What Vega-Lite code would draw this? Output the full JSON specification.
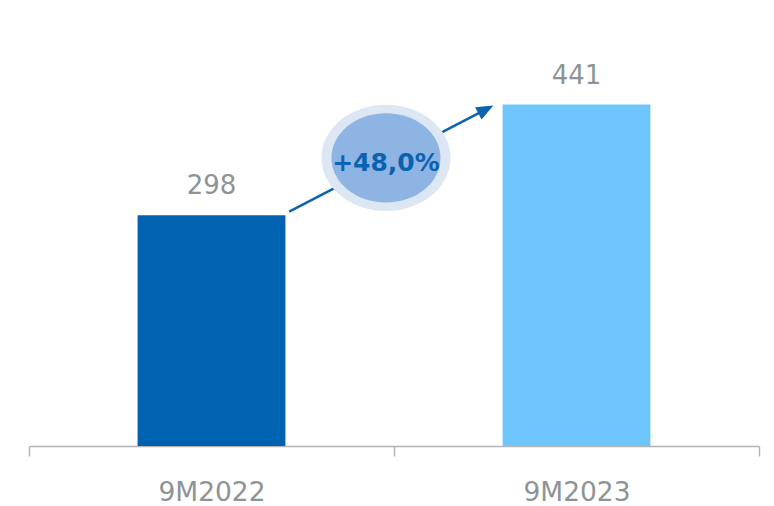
{
  "$schema": "https://vega.github.io/schema/vega-lite/v6.json",
  "width": 730,
  "height": 446,
  "autosize": {"type": "none"},
  "padding": {"left": 29, "top": 0, "right": 15, "bottom": 60},
  "background": "white",
  "config": {"view": {"stroke": null}},
  "datasets": {
    "bars": [
      {"period": "9M2022", "value": 298},
      {"period": "9M2023", "value": 441}
    ],
    "arrow": [
      {"x": 0.713, "y": 302.7, "x2": 1.248, "y2": 433.7}
    ],
    "badge": [
      {"x": 0.978, "y": 372.1, "ty": 355.7, "label": "+48,0%"}
    ]
  },
  "layer": [
    {
      "data": {"name": "bars"},
      "layer": [
        {
          "mark": {"type": "bar", "width": {"band": 0.405}},
          "encoding": {
            "x": {
              "field": "period",
              "type": "nominal",
              "sort": null,
              "scale": {"paddingInner": 0, "paddingOuter": 0},
              "axis": {
                "title": null,
                "labelAngle": 0,
                "labelFont": "DejaVu Sans",
                "labelFontSize": 26.5,
                "labelColor": "#8e9396",
                "labelBaseline": "alphabetic",
                "labelPadding": 44,
                "domainColor": "#b4b4b4",
                "domainWidth": 1.5,
                "tickColor": "#b4b4b4",
                "tickWidth": 1.5,
                "tickSize": 10,
                "tickBand": "extent",
                "grid": false
              }
            },
            "y": {
              "field": "value",
              "type": "quantitative",
              "scale": {"domain": [0, 576], "nice": false, "zero": true},
              "axis": null
            },
            "color": {
              "field": "period",
              "type": "nominal",
              "scale": {"domain": ["9M2022", "9M2023"], "range": ["#0062b0", "#6fc6ff"]},
              "legend": null
            }
          }
        },
        {
          "mark": {"type": "text", "baseline": "alphabetic", "dy": -21, "font": "DejaVu Sans", "fontSize": 26, "color": "#8e9396"},
          "encoding": {
            "x": {"field": "period", "type": "nominal", "sort": null},
            "y": {"field": "value", "type": "quantitative"},
            "text": {"field": "value", "type": "quantitative"}
          }
        }
      ]
    },
    {
      "layer": [
        {
          "data": {"name": "arrow"},
          "mark": {"type": "rule", "color": "#0b62b0", "strokeWidth": 2.5},
          "encoding": {
            "x": {"field": "x", "type": "quantitative", "scale": {"domain": [0, 2], "nice": false, "zero": false}, "axis": null},
            "y": {"field": "y", "type": "quantitative", "scale": {"domain": [0, 576], "nice": false}, "axis": null},
            "x2": {"field": "x2"},
            "y2": {"field": "y2"}
          }
        },
        {
          "data": {"name": "arrow"},
          "mark": {"type": "point", "shape": "M0,-1L0.7,0.7L-0.7,0.7Z", "size": 400, "angle": 62.5, "filled": true, "color": "#0b62b0", "opacity": 1},
          "encoding": {
            "x": {"field": "x2", "type": "quantitative"},
            "y": {"field": "y2", "type": "quantitative"}
          }
        },
        {
          "data": {"name": "badge"},
          "mark": {"type": "point", "shape": "M-1,0A1,0.822,0,1,0,1,0A1,0.822,0,1,0,-1,0Z", "size": 16641, "filled": true, "color": "#dde6f3", "opacity": 1},
          "encoding": {
            "x": {"field": "x", "type": "quantitative"},
            "y": {"field": "y", "type": "quantitative"}
          }
        },
        {
          "data": {"name": "badge"},
          "mark": {"type": "point", "shape": "M-1,0A1,0.817,0,1,0,1,0A1,0.817,0,1,0,-1,0Z", "size": 11881, "filled": true, "color": "#8db4e2", "opacity": 1},
          "encoding": {
            "x": {"field": "x", "type": "quantitative"},
            "y": {"field": "y", "type": "quantitative"}
          }
        },
        {
          "data": {"name": "badge"},
          "mark": {"type": "text", "baseline": "alphabetic", "font": "DejaVu Sans", "fontWeight": "bold", "fontSize": 25, "color": "#0b62b0"},
          "encoding": {
            "x": {"field": "x", "type": "quantitative"},
            "y": {"field": "ty", "type": "quantitative"},
            "text": {"field": "label", "type": "nominal"}
          }
        }
      ]
    }
  ],
  "resolve": {"scale": {"x": "independent"}}
}
